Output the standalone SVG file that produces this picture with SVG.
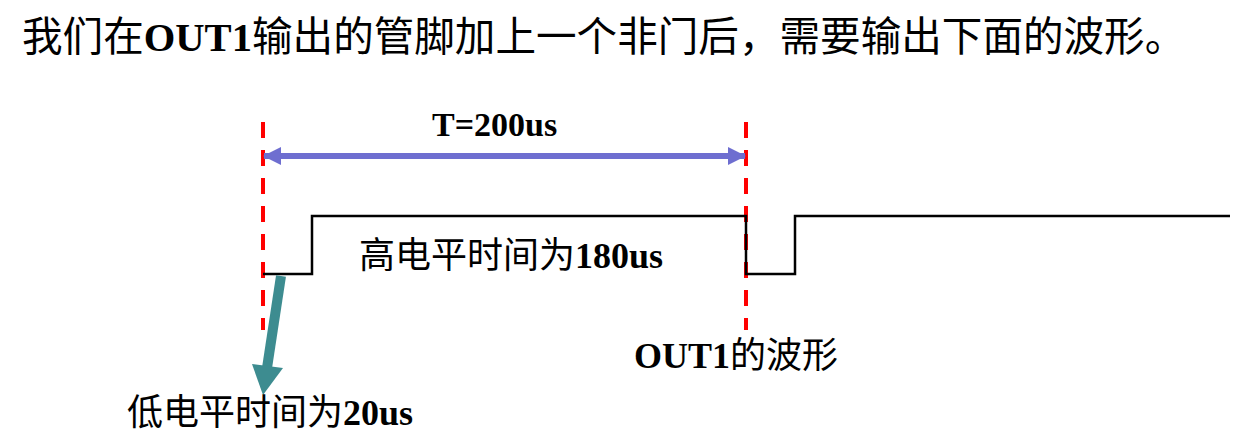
<svg xmlns="http://www.w3.org/2000/svg" width="1259" height="441" viewBox="0 0 1259 441">
<style>
text{font-family:"Liberation Serif","Noto Sans CJK SC",serif;fill:#000}
.b{font-weight:bold}
.guide{stroke:#ff0000;stroke-width:4;stroke-dasharray:16 12;fill:none}
.wave{stroke:#000;stroke-width:2.5;fill:none}
</style>
<defs>
<marker id="pa" viewBox="0 0 18 18" refX="17" refY="9" markerWidth="18" markerHeight="18" markerUnits="userSpaceOnUse" orient="auto-start-reverse">
<path d="M0,0 L18,9 L0,18 z" fill="#6e6ed0"/>
</marker>
</defs>
<g id="title"><text x="22" y="51" font-size="40.6">我们在<tspan class="b">OUT1</tspan>输出的管脚加上一个非门后，需要输出下面的波形。</text></g>
<g id="guides">
<line class="guide" x1="263" y1="122" x2="263" y2="330"/>
<line class="guide" x1="746" y1="122" x2="746" y2="330"/>
</g>
<g id="waveform"><path class="wave" d="M263,274 H312 V216 H746 V274 H795 V216 H1230"/></g>
<g id="connectors">
<line x1="264" y1="156" x2="745" y2="156" stroke="#6e6ed0" stroke-width="6" marker-start="url(#pa)" marker-end="url(#pa)"/>
<line x1="281" y1="276" x2="267" y2="368" stroke="#3d8c90" stroke-width="10"/>
<path d="M252,364 L283,368 L263,395 z" fill="#3d8c90"/>
</g>
<g id="label-T"><text class="b" x="432" y="136" font-size="34">T=200us</text></g>
<g id="label-high"><text x="359" y="268" font-size="36">高电平时间为<tspan class="b">180us</tspan></text></g>
<g id="label-out1"><text x="634" y="368" font-size="36"><tspan class="b">OUT1</tspan>的波形</text></g>
<g id="label-low"><text x="127" y="425" font-size="36">低电平时间为<tspan class="b">20us</tspan></text></g>
</svg>
